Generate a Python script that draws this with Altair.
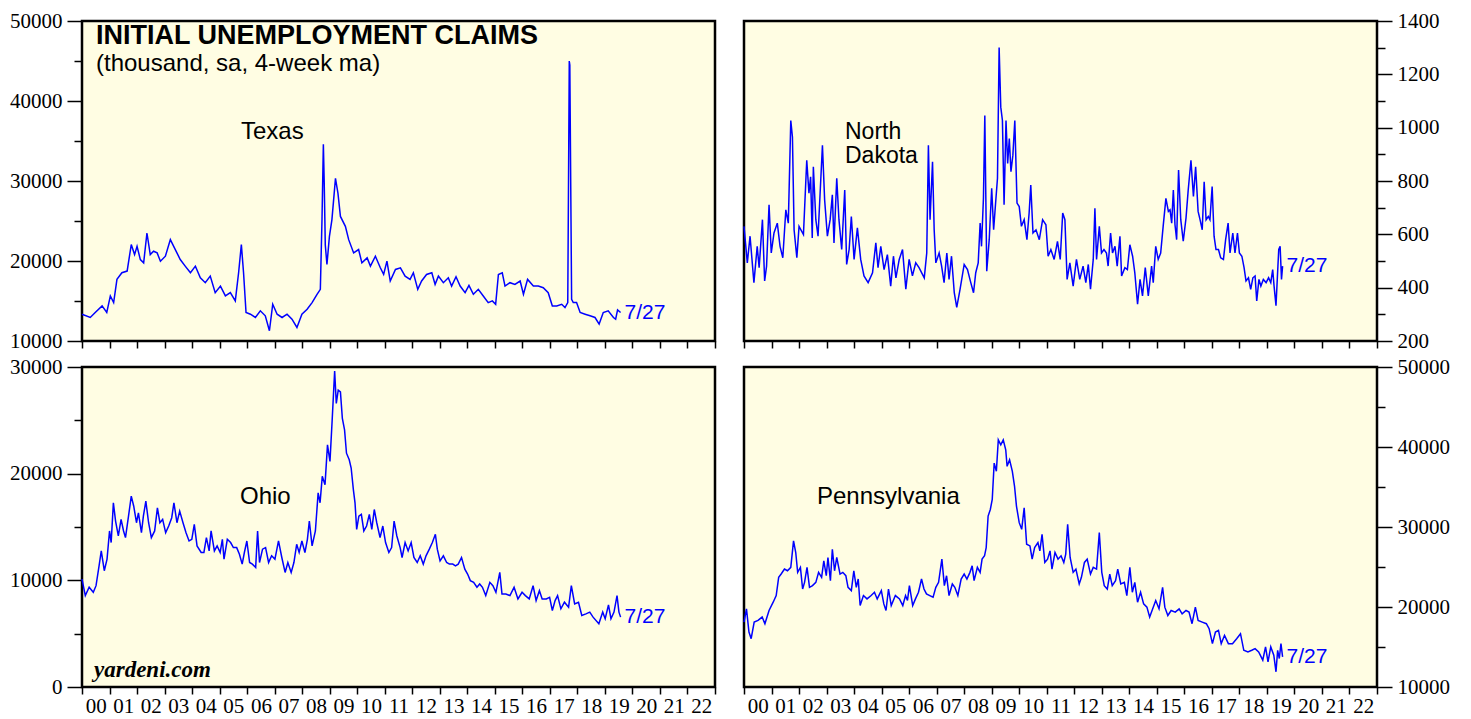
import altair as alt
import pandas as pd

# ---------------- data ----------------
tx_year = [2000.0, 2000.3, 2000.48, 2000.73, 2000.9, 2001.03, 2001.15, 2001.27, 2001.45, 2001.64,
           2001.79, 2001.91, 2002.0, 2002.12, 2002.24, 2002.36, 2002.48, 2002.6, 2002.73, 2002.85,
           2003.03, 2003.21, 2003.39, 2003.57, 2003.75, 2003.94, 2004.12, 2004.3, 2004.48, 2004.66,
           2004.84, 2005.03, 2005.21, 2005.39, 2005.57, 2005.69, 2005.79, 2005.87, 2005.96, 2006.12,
           2006.3, 2006.48, 2006.66, 2006.81, 2006.93, 2007.09, 2007.27, 2007.45, 2007.63, 2007.81,
           2007.99, 2008.18, 2008.36, 2008.54, 2008.66, 2008.72, 2008.77, 2008.8, 2008.84, 2008.9,
           2008.99, 2009.08, 2009.21, 2009.3, 2009.39, 2009.57, 2009.69, 2009.87, 2010.05, 2010.17,
           2010.36, 2010.48, 2010.66, 2010.84, 2010.96, 2011.08, 2011.2, 2011.39, 2011.57, 2011.74,
           2011.92, 2012.04, 2012.2, 2012.34, 2012.52, 2012.71, 2012.83, 2012.95, 2013.13, 2013.31,
           2013.43, 2013.59, 2013.74, 2013.92, 2014.06, 2014.22, 2014.4, 2014.58, 2014.76, 2014.91,
           2015.03, 2015.13, 2015.27, 2015.37, 2015.55, 2015.73, 2015.92, 2016.04, 2016.19, 2016.4,
           2016.58, 2016.76, 2016.94, 2017.09, 2017.25, 2017.43, 2017.55, 2017.65, 2017.705, 2017.725,
           2017.79, 2017.85, 2017.97, 2018.1, 2018.28, 2018.46, 2018.64, 2018.79, 2018.94, 2019.12,
           2019.31, 2019.39, 2019.46, 2019.57]
tx_val = [13350, 12940, 13560, 14390, 13560, 15630, 14800, 17700, 18530, 18740,
          22050, 20800, 21840, 20180, 19770, 23500, 20800, 21220, 21010, 19980,
          20600, 22670, 21430, 20180, 19360, 18530, 19360, 17910, 17290, 18110,
          16040, 16870, 15630, 16040, 15010, 18530, 22050, 18530, 13560, 13350,
          12940, 13770, 13150, 11280, 14590, 13350, 12940, 13350, 12730, 11690,
          13350, 13970, 14800, 15840, 16460, 25150, 34600, 30000, 22000, 19560,
          23080, 25150, 30330, 28470, 25570, 24330, 22670, 21010, 21430, 19770,
          20390, 19360, 20600, 19150, 18320, 19980, 17500, 18940, 19150, 18110,
          17700, 18530, 16460, 17500, 18320, 18530, 17080, 18110, 17290, 17910,
          16870, 18030, 16870, 16040, 16950, 15840, 16460, 15630, 14800, 15010,
          14590, 18320, 18530, 16870, 17290, 17080, 17500, 15840, 17700, 16870,
          16870, 16660, 16040, 14390, 14390, 14590, 14180, 14800, 45000, 44500,
          15200, 14800, 14800, 13560, 13350, 13150, 12940, 12110, 13560, 13770,
          12940, 12730, 13890, 13560]

nd_year = [2000.0, 2000.12, 2000.22, 2000.36, 2000.48, 2000.55, 2000.67, 2000.75, 2000.82, 2000.91,
           2000.99, 2001.09, 2001.21, 2001.31, 2001.41, 2001.52, 2001.61, 2001.7, 2001.76, 2001.82,
           2001.92, 2002.0, 2002.16, 2002.28, 2002.36, 2002.42, 2002.48, 2002.52, 2002.61, 2002.69,
           2002.76, 2002.85, 2002.93, 2003.03, 2003.13, 2003.21, 2003.27, 2003.37, 2003.45, 2003.55,
           2003.66, 2003.73, 2003.82, 2003.9, 2004.0, 2004.12, 2004.24, 2004.36, 2004.51, 2004.67,
           2004.79, 2004.87, 2004.97, 2005.09, 2005.21, 2005.33, 2005.43, 2005.52, 2005.64, 2005.76,
           2005.88, 2006.0, 2006.12, 2006.24, 2006.36, 2006.55, 2006.64, 2006.7, 2006.76, 2006.85,
           2006.91, 2006.97, 2007.09, 2007.18, 2007.27, 2007.37, 2007.45, 2007.54, 2007.64, 2007.73,
           2007.85, 2008.0, 2008.12, 2008.24, 2008.34, 2008.42, 2008.51, 2008.58, 2008.63, 2008.7,
           2008.75, 2008.82, 2008.91, 2009.0, 2009.07, 2009.15, 2009.21, 2009.27, 2009.33, 2009.39,
           2009.45, 2009.52, 2009.58, 2009.64, 2009.7, 2009.77, 2009.84, 2009.92, 2010.0, 2010.08,
           2010.18, 2010.28, 2010.36, 2010.42, 2010.5, 2010.61, 2010.73, 2010.85, 2010.97, 2011.05,
           2011.15, 2011.27, 2011.39, 2011.49, 2011.58, 2011.66, 2011.74, 2011.84, 2011.96, 2012.08,
           2012.2, 2012.32, 2012.42, 2012.51, 2012.59, 2012.69, 2012.75, 2012.81, 2012.91, 2012.99,
           2013.08, 2013.17, 2013.23, 2013.32, 2013.39, 2013.48, 2013.56, 2013.66, 2013.72, 2013.84,
           2013.93, 2014.02, 2014.12, 2014.2, 2014.3, 2014.39, 2014.48, 2014.58, 2014.69, 2014.81,
           2014.87, 2014.96, 2015.05, 2015.14, 2015.23, 2015.33, 2015.42, 2015.48, 2015.54, 2015.6,
           2015.66, 2015.72, 2015.79, 2015.87, 2015.96, 2016.06, 2016.14, 2016.24, 2016.33, 2016.41,
           2016.5, 2016.57, 2016.65, 2016.72, 2016.79, 2016.87, 2016.93, 2017.01, 2017.08, 2017.15,
           2017.24, 2017.32, 2017.42, 2017.5, 2017.59, 2017.66, 2017.76, 2017.84, 2017.93, 2018.0,
           2018.09, 2018.17, 2018.24, 2018.33, 2018.41, 2018.49, 2018.57, 2018.63, 2018.71, 2018.78,
           2018.87, 2018.97, 2019.06, 2019.14, 2019.21, 2019.26, 2019.33, 2019.4, 2019.43, 2019.48,
           2019.53, 2019.57]
nd_val = [630, 493, 593, 419, 555, 475, 655, 425, 481, 711,
          530, 605, 642, 555, 512, 692, 642, 1027, 965, 617,
          512, 630, 599, 878, 754, 816, 586, 853, 655, 593,
          742, 934, 729, 593, 655, 748, 568, 810, 655, 543,
          766, 487, 543, 667, 506, 624, 506, 444, 419, 456,
          568, 475, 555, 468, 524, 406, 518, 437, 506, 543,
          394, 506, 444, 493, 475, 437, 530, 934, 655, 872,
          617, 493, 530, 481, 419, 530, 431, 518, 381, 326,
          394, 487, 468, 419, 381, 456, 493, 642, 555, 735,
          1046, 462, 580, 773, 617, 729, 810, 1301, 1077, 1027,
          711, 1027, 866, 959, 835, 897, 1027, 717, 704, 630,
          655, 580, 680, 785, 605, 617, 580, 655, 636, 518,
          543, 506, 574, 506, 680, 655, 431, 493, 406, 506,
          431, 481, 419, 487, 394, 506, 698, 506, 630, 530,
          543, 530, 481, 605, 530, 555, 481, 593, 444, 475,
          468, 561, 518, 456, 338, 431, 369, 475, 369, 481,
          419, 555, 506, 530, 630, 735, 686, 692, 642, 766,
          636, 580, 841, 655, 574, 661, 766, 878, 742, 853,
          686, 655, 617, 797, 655, 667, 655, 779, 593, 543,
          543, 512, 506, 580, 642, 530, 605, 530, 605, 530,
          518, 475, 425, 437, 394, 437, 444, 350, 431, 406,
          431, 419, 437, 419, 468, 406, 332, 481, 543, 555,
          431, 481]

oh_year = [2000.0, 2000.12, 2000.26, 2000.41, 2000.51, 2000.62, 2000.7, 2000.81, 2000.91, 2001.0,
           2001.06, 2001.14, 2001.22, 2001.32, 2001.42, 2001.51, 2001.58, 2001.69, 2001.79, 2001.88,
           2001.98, 2002.05, 2002.16, 2002.23, 2002.32, 2002.42, 2002.52, 2002.64, 2002.74, 2002.83,
           2002.93, 2003.04, 2003.15, 2003.26, 2003.34, 2003.45, 2003.55, 2003.67, 2003.78, 2003.89,
           2003.99, 2004.08, 2004.18, 2004.33, 2004.43, 2004.52, 2004.62, 2004.69, 2004.81, 2004.91,
           2005.02, 2005.1, 2005.16, 2005.28, 2005.4, 2005.5, 2005.62, 2005.72, 2005.82, 2005.9,
           2005.99, 2006.09, 2006.19, 2006.31, 2006.38, 2006.45, 2006.56, 2006.67, 2006.78, 2006.89,
           2007.01, 2007.14, 2007.26, 2007.38, 2007.48, 2007.6, 2007.7, 2007.8, 2007.89, 2007.99,
           2008.1, 2008.19, 2008.26, 2008.36, 2008.48, 2008.58, 2008.65, 2008.73, 2008.83, 2008.92,
           2009.01, 2009.09, 2009.18, 2009.24, 2009.31, 2009.39, 2009.46, 2009.54, 2009.61, 2009.71,
           2009.78, 2009.86, 2009.92, 2009.98, 2010.06, 2010.15, 2010.24, 2010.34, 2010.44, 2010.53,
           2010.62, 2010.71, 2010.83, 2010.93, 2011.03, 2011.15, 2011.25, 2011.34, 2011.44, 2011.56,
           2011.63, 2011.74, 2011.85, 2011.96, 2012.06, 2012.18, 2012.29, 2012.4, 2012.5, 2012.62,
           2012.73, 2012.84, 2012.91, 2013.01, 2013.13, 2013.25, 2013.35, 2013.47, 2013.57, 2013.67,
           2013.79, 2013.91, 2014.01, 2014.11, 2014.23, 2014.35, 2014.45, 2014.55, 2014.67, 2014.82,
           2014.93, 2015.04, 2015.18, 2015.26, 2015.4, 2015.55, 2015.7, 2015.84, 2015.99, 2016.11,
           2016.25, 2016.39, 2016.5, 2016.62, 2016.72, 2016.87, 2016.99, 2017.09, 2017.19, 2017.28,
           2017.4, 2017.53, 2017.68, 2017.78, 2017.9, 2018.04, 2018.16, 2018.31, 2018.45, 2018.57,
           2018.78, 2018.92, 2019.01, 2019.13, 2019.22, 2019.33, 2019.44, 2019.51, 2019.57]
oh_val = [10120, 8570, 9350, 8880, 9500, 11360, 12760, 10900, 11990, 14630,
          13540, 17270, 15560, 14160, 15710, 14630, 14000, 16020, 17890, 16950,
          15400, 16330, 14470, 16020, 17420, 15400, 14000, 14630, 16800, 15400,
          15710, 14470, 15090, 15870, 17270, 15400, 16490, 15400, 14470, 13690,
          13850, 15250, 13230, 12610, 12610, 14000, 12760, 14630, 12760, 13230,
          12610, 13850, 11990, 13850, 13540, 13070, 13070, 12450, 11520, 12610,
          13690, 11670, 11520, 11210, 14630, 11670, 12920, 13070, 11670, 12300,
          11990, 13690, 12140, 10740, 11670, 10740, 11670, 13380, 12610, 13690,
          12610, 13850, 15560, 13230, 14630, 18200, 17270, 19750, 18970, 22700,
          21150, 25030, 29630, 26580, 27830, 27670, 25190, 24100, 21920, 21300,
          20530, 18510, 17270, 14780, 16020, 16180, 14630, 15090, 16180, 14780,
          16640, 15400, 14000, 15090, 13540, 12610, 13070, 15560, 14160, 13070,
          12140, 13540, 12760, 13540, 12140, 11670, 12300, 11520, 12300, 12920,
          13540, 14320, 12920, 11830, 12300, 11670, 11520, 11520, 11360, 11520,
          12140, 11050, 10590, 9970, 9810, 9350, 9660, 9350, 8570, 9810,
          9500, 8880, 10740, 8720, 8720, 8570, 9350, 8260, 8880, 8570,
          8260, 9500, 8100, 9030, 8260, 8260, 8410, 7170, 8100, 8570,
          7330, 7950, 7480, 9500, 7790, 7950, 6710, 6860, 7020, 6550,
          5930, 7020, 6400, 7700, 6400, 7020, 8570, 7020, 6550]

pa_year = [2000.0, 2000.09, 2000.18, 2000.26, 2000.37, 2000.51, 2000.66, 2000.76, 2000.91, 2001.06,
           2001.17, 2001.26, 2001.35, 2001.47, 2001.58, 2001.7, 2001.8, 2001.88, 2001.95, 2002.05,
           2002.13, 2002.2, 2002.29, 2002.38, 2002.49, 2002.61, 2002.71, 2002.82, 2002.9, 2002.99,
           2003.05, 2003.14, 2003.21, 2003.29, 2003.37, 2003.49, 2003.59, 2003.7, 2003.78, 2003.9,
           2003.99, 2004.08, 2004.15, 2004.22, 2004.34, 2004.47, 2004.62, 2004.74, 2004.84, 2004.99,
           2005.08, 2005.16, 2005.25, 2005.35, 2005.5, 2005.65, 2005.77, 2005.87, 2005.94, 2006.01,
           2006.13, 2006.23, 2006.34, 2006.45, 2006.54, 2006.63, 2006.75, 2006.87, 2006.97, 2007.07,
           2007.19, 2007.28, 2007.36, 2007.45, 2007.57, 2007.66, 2007.77, 2007.89, 2008.0, 2008.1,
           2008.21, 2008.29, 2008.36, 2008.48, 2008.58, 2008.65, 2008.74, 2008.8, 2008.87, 2008.95,
           2009.02, 2009.09, 2009.17, 2009.24, 2009.33, 2009.42, 2009.51, 2009.56, 2009.65, 2009.75,
           2009.83, 2009.9, 2010.0, 2010.09, 2010.18, 2010.27, 2010.39, 2010.47, 2010.56, 2010.68,
           2010.75, 2010.83, 2010.93, 2011.03, 2011.12, 2011.19, 2011.3, 2011.41, 2011.52, 2011.62,
           2011.69, 2011.76, 2011.85, 2011.96, 2012.06, 2012.18, 2012.26, 2012.37, 2012.47, 2012.59,
           2012.69, 2012.81, 2012.91, 2013.0, 2013.09, 2013.2, 2013.29, 2013.38, 2013.5, 2013.58,
           2013.69, 2013.82, 2013.91, 2014.02, 2014.11, 2014.2, 2014.3, 2014.41, 2014.52, 2014.64,
           2014.74, 2014.85, 2014.96, 2015.08, 2015.21, 2015.29, 2015.4, 2015.52, 2015.67, 2015.81,
           2015.92, 2016.06, 2016.17, 2016.28, 2016.4, 2016.5, 2016.65, 2016.8, 2016.9, 2017.02,
           2017.13, 2017.24, 2017.34, 2017.46, 2017.6, 2017.75, 2017.9, 2018.04, 2018.16, 2018.31,
           2018.45, 2018.57, 2018.7, 2018.85, 2018.95, 2019.04, 2019.14, 2019.25, 2019.33, 2019.39,
           2019.45, 2019.51, 2019.57]
pa_val = [18110, 19770, 16870, 16040, 18110, 18320, 18740, 17910, 19560, 20600,
          21430, 23710, 24120, 24740, 24530, 24950, 28260, 26810, 24330, 24950,
          22250, 23080, 24950, 22460, 22670, 23080, 24330, 23710, 25770, 23910,
          26190, 23290, 27220, 24530, 26190, 24120, 24330, 23910, 22460, 22050,
          24530, 22460, 23500, 20180, 21430, 21010, 21430, 21840, 21010, 22050,
          20390, 19560, 22250, 20180, 21430, 21010, 20180, 21430, 20810, 22670,
          20180, 21010, 21840, 23500, 22250, 21640, 21430, 21220, 22460, 23080,
          25980, 22670, 23910, 21430, 22880, 22460, 21430, 23500, 24120, 23500,
          24330, 25150, 23290, 24950, 24330, 25980, 26400, 27430, 31370, 32190,
          33440, 37990, 36960, 40890, 40270, 40890, 39650, 37580, 38410, 36960,
          35090, 32610, 30540, 29710, 32400, 27850, 27640, 25980, 27430, 28050,
          27020, 29090, 25570, 25980, 27020, 24740, 26810, 25980, 26400, 25570,
          26600, 30330, 26190, 24330, 24740, 22880, 23710, 25570, 25980, 24120,
          24950, 24740, 29300, 24330, 22670, 22250, 24120, 22670, 23290, 24740,
          22880, 23080, 21430, 24950, 21840, 23080, 20600, 21840, 20390, 19980,
          18740, 19770, 20810, 19770, 22460, 19980, 18940, 19560, 19360, 19770,
          19150, 19560, 19360, 17910, 19980, 18320, 18110, 17910, 17290, 15420,
          16870, 17080, 15420, 16460, 15420, 15420, 16040, 16660, 14590, 14390,
          14590, 14800, 14390, 13350, 15010, 13150, 15010, 13970, 11900, 14590,
          13560, 15420, 13770]

years_ticks = list(range(2000, 2024))
end_label = "7/27"

# ---------------- styling ----------------
BG = "#fffde3"
LINE = "#0000ff"
SERIF = "Liberation Serif"
SANS = "Liberation Sans"
W, H = 633, 320


def panel(years, vals, ymin, ymax, ystep, orient, show_x_labels, texts):
    df = pd.DataFrame({"year": years, "value": vals})
    half = ystep // 2
    xscale = alt.Scale(domain=[2000, 2023], nice=False, zero=False)
    yscale = alt.Scale(domain=[ymin, ymax], nice=False, zero=False)
    xaxis = alt.Axis(
        values=years_ticks, title=None, grid=False, domain=False,
        tickSize=7, tickColor="black", tickWidth=1.5,
        labels=show_x_labels,
        labelExpr="datum.value >= 2023 ? '' : substring(toString(datum.value), 2, 4)",
        labelOffset=13.76, labelFont=SERIF, labelFontSize=21, labelColor="black",
        labelPadding=1, labelFlush=False, labelOverlap=False, labelSeparation=0,
        labelBound=False,
    )
    yaxis = alt.Axis(
        orient=orient, values=list(range(ymin, ymax + 1, half)), title=None,
        grid=False, domain=False, tickColor="black", tickWidth=1.5,
        tickSize={"condition": {"test": f"datum.value % {ystep} === 0", "value": 15}, "value": 8},
        labelExpr=f"datum.value % {ystep} === 0 ? toString(datum.value) : ''",
        labelFont=SERIF, labelFontSize=21, labelColor="black", labelPadding=5,
        labelFlush=False, labelOverlap=False,
    )
    xenc = alt.X("year:Q", scale=xscale, axis=xaxis)
    yenc = alt.Y("value:Q", scale=yscale, axis=yaxis)
    line = alt.Chart(df).mark_line(color=LINE, strokeWidth=1.5).encode(x=xenc, y=yenc)
    last = pd.DataFrame({"year": [years[-1]], "value": [vals[-1]], "t": [end_label]})
    end = alt.Chart(last).mark_text(
        align="left", baseline="middle", dx=4, color=LINE, font=SANS, fontSize=21
    ).encode(x=xenc, y=yenc, text="t:N")
    layers = [line, end]
    for (txt, px, py, size, weight, style, font) in texts:
        layers.append(
            alt.Chart(pd.DataFrame({"k": [0]})).mark_text(
                align="left", baseline="alphabetic", font=font, fontSize=size,
                fontWeight=weight, fontStyle=style, color="black", lineHeight=24,
            ).encode(x=alt.value(px), y=alt.value(py), text=alt.value(txt))
        )
    return alt.layer(*layers).properties(width=W, height=H)


tx = panel(tx_year, tx_val, 10000, 50000, 10000, "left", False, [
    ("INITIAL UNEMPLOYMENT CLAIMS", 14, 23, 27, "bold", "normal", SANS),
    ("(thousand, sa, 4-week ma)", 14, 50, 24, "normal", "normal", SANS),
    ("Texas", 159, 118, 24, "normal", "normal", SANS),
])
nd = panel(nd_year, nd_val, 200, 1400, 200, "right", False, [
    (["North", "Dakota"], 101, 118, 23, "normal", "normal", SANS),
])
oh = panel(oh_year, oh_val, 0, 30000, 10000, "left", True, [
    ("Ohio", 158, 137, 24, "normal", "normal", SANS),
    ("yardeni.com", 12, 310, 23, "bold", "italic", SERIF),
])
pa = panel(pa_year, pa_val, 10000, 50000, 10000, "right", True, [
    ("Pennsylvania", 73, 137, 24, "normal", "normal", SANS),
])

chart = alt.concat(
    tx, nd, oh, pa, columns=2, spacing={"row": 26, "column": 29}, bounds="flush"
).configure_view(
    stroke="black", strokeWidth=2.5, fill=BG
).properties(
    padding={"left": 0, "top": 0, "right": 5, "bottom": 0}
)

chart.save("out.html", embed_options={"renderer": "svg", "actions": False})
